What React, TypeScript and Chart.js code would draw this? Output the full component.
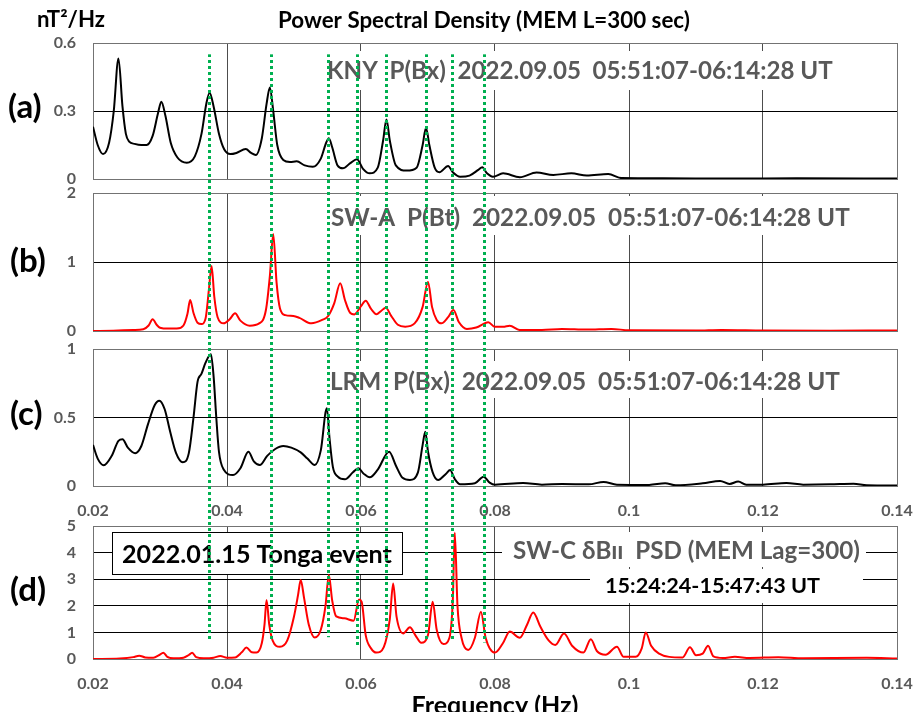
import React, { useEffect, useRef } from 'react';
import { Chart, registerables } from 'chart.js';

Chart.register(...registerables);

const FONT = 'Lato, "DejaVu Sans", sans-serif';
const W = 917;
const GRAY_TEXT = '#595959';
const FRAME = '#737373';
const GUIDE_GREEN = '#00b050';

// Frequency axis (Hz)
const xTickValues = [0.02, 0.04, 0.06, 0.08, 0.1, 0.12, 0.14];

// PSD axes (nT^2/Hz)
const knyTicks = [0, 0.3, 0.6];
const swaTicks = [0, 1, 2];
const lrmTicks = [0, 0.5, 1];
const swcTicks = [0, 1, 2, 3, 4, 5];

// Common spectral peaks marked across all panels (Hz)
const markerFreqs = [0.0373, 0.0466, 0.0551, 0.0594, 0.0637, 0.0697, 0.0736, 0.0784];
// Guide start in panel (a) and guide ends in panel (d), in each panel's PSD units
const markerStart = 0.55;
const markerEnds = [0.7, 0.7, 0.82, 0.5, 0.82, 0.72, 0.65, 0.62];

// (a) KNY P(Bx)
const knyFreq = [
  0.02, 0.0207, 0.0215, 0.0224, 0.0231, 0.0238, 0.0244, 0.0249, 0.0254, 0.0262,
  0.0272, 0.028, 0.0289, 0.0297, 0.0302, 0.0308, 0.0316, 0.0326, 0.034, 0.0352,
  0.0362, 0.0369, 0.0374, 0.038, 0.0388, 0.0396, 0.0405, 0.0414, 0.0428, 0.0436,
  0.0443, 0.0452, 0.0459, 0.0464, 0.0469, 0.0475, 0.0484, 0.0494, 0.0504, 0.0516,
  0.0528, 0.054, 0.0548, 0.0552, 0.0557, 0.0565, 0.0573, 0.0584, 0.0594, 0.0603,
  0.0613, 0.0625, 0.0633, 0.0638, 0.0643, 0.0652, 0.0668, 0.0683, 0.0692, 0.0697,
  0.0702, 0.071, 0.0717, 0.073, 0.0737, 0.0748, 0.0762, 0.0775, 0.0781, 0.0788,
  0.0797, 0.0812, 0.0837, 0.0862, 0.0887, 0.0914, 0.0937, 0.0969, 0.0989, 0.105,
  0.115, 0.125, 0.14,
];
const knyPsd = [
  0.231, 0.15, 0.11, 0.16, 0.3, 0.532, 0.32, 0.2, 0.165, 0.155,
  0.15, 0.15, 0.19, 0.29, 0.341, 0.28, 0.16, 0.095, 0.072, 0.1,
  0.2, 0.33, 0.381, 0.32, 0.2, 0.13, 0.11, 0.115, 0.132, 0.115,
  0.106, 0.18, 0.33, 0.404, 0.3, 0.15, 0.084, 0.075, 0.078, 0.06,
  0.054, 0.09, 0.16, 0.18, 0.14, 0.06, 0.047, 0.07, 0.087, 0.045,
  0.025, 0.05, 0.17, 0.263, 0.17, 0.06, 0.037, 0.05, 0.15, 0.226,
  0.15, 0.05, 0.03, 0.057, 0.03, 0.01, 0.015, 0.04, 0.052, 0.025,
  0.01, 0.025, 0.008, 0.029, 0.018, 0.025, 0.015, 0.022, 0.004, 0.003,
  0.002, 0.003, 0.002,
];

// (b) SW-A P(Bt)
const swaFreq = [
  0.02, 0.023, 0.026, 0.0275, 0.0283, 0.0289, 0.0295, 0.03, 0.0312, 0.0325,
  0.0335, 0.0341, 0.0345, 0.035, 0.0356, 0.0362, 0.0368, 0.0373, 0.0377, 0.0381,
  0.0386, 0.0395, 0.0404, 0.0412, 0.042, 0.0434, 0.0448, 0.0458, 0.0464, 0.0469,
  0.0474, 0.0479, 0.0487, 0.0499, 0.0508, 0.0526, 0.0542, 0.0551, 0.056, 0.0569,
  0.0576, 0.0584, 0.059, 0.06, 0.0607, 0.0615, 0.0623, 0.063, 0.0637, 0.0645,
  0.0655, 0.0666, 0.068, 0.0692, 0.07, 0.0706, 0.0713, 0.072, 0.073, 0.0738,
  0.0746, 0.0758, 0.0772, 0.079, 0.08, 0.0812, 0.0822, 0.0837, 0.087, 0.09,
  0.0937, 0.0974, 0.1, 0.11, 0.1138, 0.12, 0.13, 0.14,
];
const swaPsd = [
  0, 0.005, 0.015, 0.025, 0.08, 0.169, 0.09, 0.048, 0.035, 0.035,
  0.08, 0.25, 0.449, 0.26, 0.12, 0.1, 0.18, 0.6, 0.942, 0.5,
  0.2, 0.111, 0.17, 0.256, 0.15, 0.077, 0.11, 0.3, 0.8, 1.406,
  0.7, 0.33, 0.23, 0.217, 0.19, 0.111, 0.16, 0.217, 0.4, 0.691,
  0.45, 0.26, 0.24, 0.36, 0.44, 0.32, 0.242, 0.29, 0.338, 0.22,
  0.09, 0.063, 0.11, 0.35, 0.715, 0.35, 0.16, 0.111, 0.2, 0.304,
  0.13, 0.03, 0.05, 0.126, 0.06, 0.06, 0.077, 0.014, 0.015, 0.03,
  0.02, 0.03, 0.01, 0.006, 0.015, 0.008, 0.005, 0.006,
];

// (c) LRM P(Bx)
const lrmFreq = [
  0.02, 0.0207, 0.0216, 0.0228, 0.0238, 0.0244, 0.0252, 0.0263, 0.0272, 0.0282,
  0.0292, 0.0299, 0.0307, 0.0315, 0.0324, 0.0334, 0.0343, 0.035, 0.0356, 0.0362,
  0.0368, 0.0376, 0.038, 0.0384, 0.0388, 0.0395, 0.0409, 0.042, 0.0432, 0.044,
  0.0449, 0.046, 0.0472, 0.0484, 0.0496, 0.051, 0.052, 0.0531, 0.054, 0.0549,
  0.0553, 0.0558, 0.0565, 0.0576, 0.0588, 0.0596, 0.0604, 0.0613, 0.0625, 0.0642,
  0.0652, 0.0662, 0.0673, 0.0685, 0.0692, 0.0696, 0.07, 0.0707, 0.0715, 0.0727,
  0.0733, 0.074, 0.0748, 0.077, 0.0783, 0.0792, 0.08, 0.0842, 0.087, 0.09,
  0.094, 0.0962, 0.0982, 0.103, 0.1054, 0.107, 0.111, 0.1136, 0.115, 0.1163,
  0.1175, 0.12, 0.1235, 0.126, 0.13, 0.1335, 0.1355, 0.14,
];
const lrmPsd = [
  0.3, 0.2, 0.151, 0.22, 0.33, 0.341, 0.28, 0.239, 0.29, 0.45,
  0.59, 0.623, 0.56, 0.4, 0.24, 0.173, 0.24, 0.5, 0.76, 0.82,
  0.9, 0.961, 0.8, 0.5, 0.25, 0.12, 0.08, 0.13, 0.25, 0.18,
  0.153, 0.22, 0.27, 0.292, 0.28, 0.245, 0.2, 0.153, 0.26, 0.567,
  0.35, 0.14, 0.07, 0.049, 0.1, 0.129, 0.09, 0.063, 0.12, 0.25,
  0.15, 0.06, 0.044, 0.1, 0.3, 0.396, 0.25, 0.1, 0.044, 0.09,
  0.117, 0.05, 0.012, 0.02, 0.068, 0.025, 0.01, 0.022, 0.01, 0.015,
  0.012, 0.03, 0.01, 0.008, 0.02, 0.005, 0.02, 0.037, 0.015, 0.033,
  0.01, 0.01, 0.022, 0.01, 0.012, 0.017, 0.005, 0.003,
];

// (d) SW-C dB|| PSD, Tonga event
const swcFreq = [
  0.02, 0.024, 0.026, 0.0269, 0.0278, 0.029, 0.0299, 0.0305, 0.0311, 0.032,
  0.0335, 0.0343, 0.0348, 0.0354, 0.0365, 0.038, 0.039, 0.04, 0.0412, 0.0422,
  0.0429, 0.0437, 0.0444, 0.0452, 0.0456, 0.0459, 0.0463, 0.0468, 0.0479, 0.049,
  0.05, 0.0506, 0.051, 0.0515, 0.0522, 0.0531, 0.054, 0.0547, 0.0552, 0.0557,
  0.0563, 0.0575, 0.0589, 0.0597, 0.0601, 0.0607, 0.0615, 0.0623, 0.0634, 0.0643,
  0.0648, 0.0653, 0.0663, 0.0673, 0.0681, 0.069, 0.07, 0.0707, 0.0713, 0.0723,
  0.0732, 0.0737, 0.074, 0.0744, 0.075, 0.076, 0.077, 0.0779, 0.0786, 0.08,
  0.0812, 0.0822, 0.0837, 0.0848, 0.0857, 0.0868, 0.088, 0.089, 0.0903, 0.0915,
  0.0932, 0.0943, 0.0952, 0.0965, 0.0982, 0.0992, 0.101, 0.1019, 0.1025, 0.1033,
  0.1045, 0.106, 0.108, 0.1091, 0.11, 0.111, 0.1118, 0.1126, 0.114, 0.1158,
  0.118, 0.1223, 0.126, 0.1355, 0.14,
];
const swcPsd = [
  0, 0.02, 0.07, 0.125, 0.06, 0.05, 0.15, 0.237, 0.08, 0.03,
  0.05, 0.15, 0.237, 0.07, 0.03, 0.05, 0.11, 0.05, 0.06, 0.25,
  0.43, 0.25, 0.24, 0.6, 1.3, 2.22, 1.3, 0.7, 0.46, 0.7,
  1.6, 2.4, 2.97, 2.3, 1.3, 0.81, 1.1, 2.0, 3.16, 2.2,
  1.6, 1.53, 1.44, 2.24, 2.15, 0.9, 0.4, 0.24, 0.45, 1.5,
  2.84, 1.6, 0.96, 1.19, 0.9, 0.61, 0.9, 2.15, 1.1, 0.56,
  0.8, 2.2, 4.75, 2.0, 0.8, 0.34, 0.8, 1.78, 0.8, 0.24,
  0.6, 1.03, 0.8, 1.3, 1.75, 1.2, 0.7, 0.53, 0.96, 0.5,
  0.24, 0.74, 0.3, 0.16, 0.46, 0.08, 0.08, 0.4, 1.0, 0.5,
  0.2, 0.08, 0.06, 0.44, 0.14, 0.2, 0.5, 0.1, 0.04, 0.08,
  0.04, 0.07, 0.03, 0.05, 0.02,
];

type Note = {
  text: string;
  f: number; // left edge of the text, Hz
  v: number; // vertical centre of the capitals, PSD units
  color: string;
  size: number;
  width: number;
  pad: [number, number, number, number]; // left, right, top, bottom
  framed?: boolean;
};

type Label = {
  text: string;
  x: number;
  y: number; // baseline, page coordinates
  size: number;
  width?: number;
  color: string;
  align?: CanvasTextAlign;
  clipBottom?: number;
};

type PanelSpec = {
  key: string;
  top: number;
  height: number;
  areaTop: number;
  xAxisHeight: number;
  showX: boolean;
  yMax: number;
  yTicks: number[];
  freq: number[];
  psd: number[];
  color: string;
  notes: Note[];
  labels: Label[];
  guideFrom?: number;
  guideEnds?: number[];
};

const fmtTick = (v: number | string) => String(Number(Number(v).toFixed(3)));

function setFont(ctx: CanvasRenderingContext2D, text: string, size: number, width?: number) {
  ctx.font = `bold ${size}px ${FONT}`;
  if (!width) return size;
  const m = ctx.measureText(text).width;
  const s = (size * width) / m;
  ctx.font = `bold ${s}px ${FONT}`;
  return s;
}

function overlay(spec: PanelSpec) {
  return {
    id: 'panelOverlay',
    beforeDatasetsDraw(chart: any) {
      const { ctx, chartArea, scales } = chart;
      ctx.save();
      ctx.strokeStyle = FRAME;
      ctx.lineWidth = 1;
      ctx.strokeRect(
        Math.round(chartArea.left) + 0.5,
        Math.round(chartArea.top) + 0.5,
        Math.round(chartArea.right) - Math.round(chartArea.left),
        Math.round(chartArea.bottom) - Math.round(chartArea.top)
      );
      for (const n of spec.notes) {
        setFont(ctx, n.text, n.size, n.width);
        const tw = ctx.measureText(n.text).width;
        const capH = ctx.measureText('H').actualBoundingBoxAscent;
        const x = scales.x.getPixelForValue(n.f);
        const cy = scales.y.getPixelForValue(n.v);
        const [pl, pr, pt, pb] = n.pad;
        const bx = Math.round(x - pl);
        const by = Math.round(cy - pt);
        const bw = Math.round(tw + pl + pr);
        const bh = Math.round(pt + pb);
        ctx.fillStyle = '#ffffff';
        ctx.fillRect(bx, by, bw, bh);
        if (n.framed) {
          ctx.strokeStyle = '#000000';
          ctx.lineWidth = 1;
          ctx.strokeRect(bx + 0.5, by + 0.5, bw, bh);
        }
        ctx.fillStyle = n.color;
        ctx.textAlign = 'left';
        ctx.textBaseline = 'alphabetic';
        ctx.fillText(n.text, x, cy + capH / 2);
      }
      ctx.restore();
    },
    afterDatasetsDraw(chart: any) {
      const { ctx, scales } = chart;
      ctx.save();
      ctx.strokeStyle = GUIDE_GREEN;
      ctx.lineWidth = 3;
      ctx.setLineDash([3, 3]);
      markerFreqs.forEach((f, i) => {
        const x = Math.round(scales.x.getPixelForValue(f)) + 0.5;
        const y0 = spec.guideFrom != null ? scales.y.getPixelForValue(spec.guideFrom) : 0;
        const y1 = spec.guideEnds ? scales.y.getPixelForValue(spec.guideEnds[i]) : chart.height;
        ctx.lineDashOffset = (spec.top + y0) % 6;
        ctx.beginPath();
        ctx.moveTo(x, y0);
        ctx.lineTo(x, y1);
        ctx.stroke();
      });
      ctx.restore();
    },
    afterDraw(chart: any) {
      const { ctx } = chart;
      for (const l of spec.labels) {
        ctx.save();
        if (l.clipBottom != null) {
          ctx.beginPath();
          ctx.rect(0, 0, chart.width, l.clipBottom - spec.top);
          ctx.clip();
        }
        setFont(ctx, l.text, l.size, l.width);
        ctx.fillStyle = l.color;
        ctx.textAlign = l.align || 'left';
        ctx.textBaseline = 'alphabetic';
        ctx.fillText(l.text, l.x, l.y - spec.top);
        ctx.restore();
      }
    },
  };
}

function makeConfig(spec: PanelSpec): any {
  const tickFont = { family: FONT, size: 16, weight: 'bold' as const };
  return {
    type: 'line',
    data: {
      datasets: [
        {
          data: spec.freq.map((f, i) => ({ x: f, y: spec.psd[i] })),
          borderColor: spec.color,
          borderWidth: 2,
          pointRadius: 0,
          fill: false,
          cubicInterpolationMode: 'monotone',
          borderJoinStyle: 'round',
        },
      ],
    },
    options: {
      responsive: false,
      animation: false,
      events: [],
      devicePixelRatio: 1,
      layout: { padding: { top: spec.areaTop - spec.top, right: 20, left: 0, bottom: 0 } },
      plugins: { legend: { display: false }, tooltip: { enabled: false }, title: { display: false } },
      scales: {
        x: {
          type: 'linear',
          min: 0.02,
          max: 0.14,
          afterBuildTicks: (s: any) => {
            s.ticks = xTickValues.map((value) => ({ value }));
          },
          afterFit: (s: any) => {
            s.height = spec.xAxisHeight;
            s.paddingLeft = 0;
            s.paddingRight = 0;
          },
          ticks: {
            display: spec.showX,
            padding: 15,
            color: GRAY_TEXT,
            font: tickFont,
            maxRotation: 0,
            autoSkip: false,
            callback: fmtTick,
          },
          grid: { color: '#4d4d4d', lineWidth: 1, drawTicks: false },
          border: { display: false },
        },
        y: {
          type: 'linear',
          min: 0,
          max: spec.yMax,
          afterBuildTicks: (s: any) => {
            s.ticks = spec.yTicks.map((value) => ({ value }));
          },
          afterFit: (s: any) => {
            s.width = 93;
            s.paddingTop = 0;
            s.paddingBottom = 0;
          },
          ticks: { padding: 17, color: GRAY_TEXT, font: tickFont, callback: fmtTick, autoSkip: false },
          grid: { color: '#000000', lineWidth: 1, drawTicks: false },
          border: { display: false },
        },
      },
    },
    plugins: [overlay(spec)],
  };
}

const STATION_TIME = '2022.09.05  05:51:07-06:14:28 UT';

const panels: PanelSpec[] = [
  {
    key: 'a',
    top: 0,
    height: 187,
    areaTop: 43,
    xAxisHeight: 8,
    showX: false,
    yMax: 0.6,
    yTicks: knyTicks,
    freq: knyFreq,
    psd: knyPsd,
    color: '#000000',
    guideFrom: markerStart,
    notes: [
      { text: `KNY  P(Bx)  ${STATION_TIME}`, f: 0.05493, v: 0.483, color: GRAY_TEXT, size: 24, width: 506, pad: [5, 8, 19, 20] },
    ],
    labels: [
      { text: 'nT²/Hz', x: 37, y: 27, size: 19, width: 68, color: '#000000' },
      { text: 'Power Spectral Density (MEM L=300 sec)', x: 278, y: 28, size: 19, width: 412, color: '#000000' },
      { text: '(a)', x: 8, y: 118, size: 33, color: '#000000' },
    ],
  },
  {
    key: 'b',
    top: 187,
    height: 153,
    areaTop: 193,
    xAxisHeight: 9,
    showX: false,
    yMax: 2,
    yTicks: swaTicks,
    freq: swaFreq,
    psd: swaPsd,
    color: '#ff0000',
    notes: [
      { text: `SW-A  P(Bt)  ${STATION_TIME}`, f: 0.05552, v: 1.659, color: GRAY_TEXT, size: 24, width: 519, pad: [5, 8, 21, 18] },
    ],
    labels: [{ text: '(b)', x: 10, y: 272, size: 33, color: '#000000' }],
  },
  {
    key: 'c',
    top: 340,
    height: 179,
    areaTop: 349,
    xAxisHeight: 33,
    showX: true,
    yMax: 1,
    yTicks: lrmTicks,
    freq: lrmFreq,
    psd: lrmPsd,
    color: '#000000',
    notes: [
      { text: `LRM  P(Bx)  ${STATION_TIME}`, f: 0.05537, v: 0.763, color: GRAY_TEXT, size: 24, width: 510, pad: [5, 8, 20, 17] },
    ],
    labels: [{ text: '(c)', x: 10, y: 425, size: 33, color: '#000000' }],
  },
  {
    key: 'd',
    top: 519,
    height: 198,
    areaTop: 526,
    xAxisHeight: 58,
    showX: true,
    yMax: 5,
    yTicks: swcTicks,
    freq: swcFreq,
    psd: swcPsd,
    color: '#ff0000',
    guideEnds: markerEnds,
    notes: [
      { text: 'SW-C δBıı  PSD (MEM Lag=300)', f: 0.08269, v: 4.098, color: GRAY_TEXT, size: 24, width: 347, pad: [11, 6, 18, 17] },
      { text: '15:24:24-15:47:43 UT', f: 0.09642, v: 2.763, color: '#000000', size: 20, width: 215, pad: [15, 43, 17, 17] },
      { text: '2022.01.15 Tonga event', f: 0.02433, v: 3.947, color: '#000000', size: 24, width: 270, pad: [10, 10, 22, 20], framed: true },
    ],
    labels: [
      { text: '(d)', x: 10, y: 601, size: 33, color: '#000000' },
      { text: 'Frequency (Hz)', x: 495, y: 714, size: 22, width: 167, color: '#000000', align: 'center', clipBottom: 712 },
    ],
  },
];

function Panel({ spec }: { spec: PanelSpec }) {
  const ref = useRef<HTMLCanvasElement>(null);
  useEffect(() => {
    const chart = new Chart(ref.current as HTMLCanvasElement, makeConfig(spec));
    return () => chart.destroy();
  }, [spec]);
  return (
    <canvas
      ref={ref}
      width={W}
      height={spec.height}
      style={{ position: 'absolute', left: 0, top: spec.top, width: W, height: spec.height, display: 'block' }}
    />
  );
}

export default function App() {
  return (
    <div style={{ position: 'absolute', left: 0, top: 0, width: W, height: 717, background: '#ffffff', overflow: 'hidden' }}>
      {panels.map((p) => (
        <Panel key={p.key} spec={p} />
      ))}
    </div>
  );
}
